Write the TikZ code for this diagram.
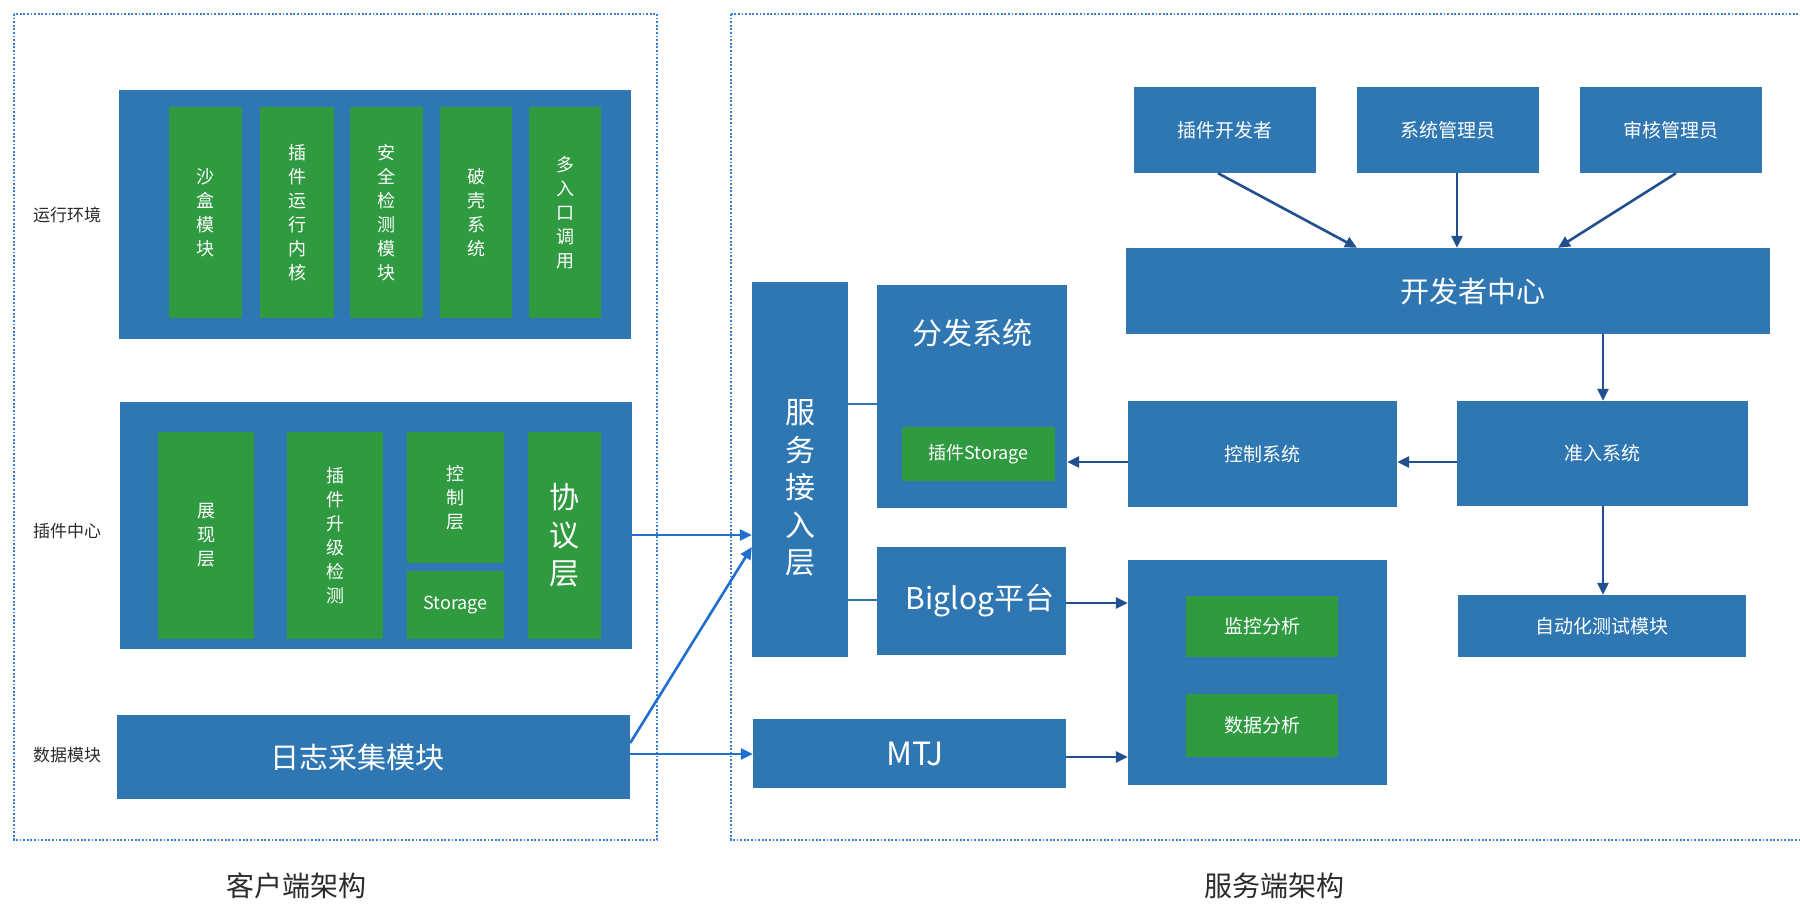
\documentclass[tikz,border=0pt]{standalone}
\usepackage{fontspec}
\newfontfamily\cjk{Noto Sans CJK SC}
\usetikzlibrary{arrows.meta}
\definecolor{boxblue}{HTML}{2F77B3}
\definecolor{boxgreen}{HTML}{2F9A40}
\definecolor{dotblue}{HTML}{3B7FD6}
\definecolor{arrbright}{HTML}{1F6ED0}
\definecolor{arrnavy}{HTML}{22508F}
\definecolor{labelgray}{HTML}{2B2B2B}
\newcommand\rectnode[7]{\node[#1, minimum width={(#5)-(#3)}, minimum height={(#6)-(#4)}] (#2) at ({((#3)+(#5))/2},{((#4)+(#6))/2}) {#7};}
\tikzset{
  bluebox/.style={fill=boxblue, draw=none, inner sep=0pt, text=white, align=center},
  greenbox/.style={fill=boxgreen, draw=none, inner sep=0pt, text=white, align=center},
  boxtext/.style={text=white, inner sep=0pt, align=center},
  vsmall/.style={font=\cjk\fontsize{18}{24}\selectfont},
  small/.style={font=\cjk\fontsize{19}{23}\selectfont},
  big/.style={font=\cjk\fontsize{29}{34}\selectfont},
  sidelabel/.style={font=\cjk\fontsize{17}{20}\selectfont, text=labelgray, inner sep=0pt},
  title/.style={font=\cjk\fontsize{28}{32}\selectfont, text=labelgray, inner sep=0pt},
  dotframe/.style={draw=dotblue, line width=1.6pt, dash pattern=on 1.8pt off 1.8pt},
  brightarrow/.style={draw=arrbright, line width=2.6pt, -{Triangle[length=12pt,width=11pt]}},
  navyarrow/.style={draw=arrnavy, line width=2.6pt, -{Triangle[length=12pt,width=11pt]}},
  plainlink/.style={draw=boxblue, line width=2.6pt},
}
\begin{document}
\begin{tikzpicture}[x=1pt,y=-1pt]
\useasboundingbox (0,0) rectangle (1800,905);
% frames
\draw[dotframe] (14,14) rectangle (657,840);
\draw[dotframe] (731,14) rectangle (1812,840);
\node[title] (tclient) at (296,886) {客户端架构};
\node[title] (tserver) at (1274,886) {服务端架构};
% side labels
\node[sidelabel] (lrun) at (67,215) {运行环境};
\node[sidelabel] (lplug) at (67,531) {插件中心};
\node[sidelabel] (ldata) at (67,755) {数据模块};
% run environment
\rectnode{bluebox}{run}{119}{90}{631}{339}{}
\rectnode{greenbox,vsmall}{g1}{169}{107}{242}{318}{沙\\盒\\模\\块}
\rectnode{greenbox,vsmall}{g2}{260}{107}{334}{318}{插\\件\\运\\行\\内\\核}
\rectnode{greenbox,vsmall}{g3}{350}{107}{423}{318}{安\\全\\检\\测\\模\\块}
\rectnode{greenbox,vsmall}{g4}{440}{107}{512}{318}{破\\壳\\系\\统}
\rectnode{greenbox,vsmall}{g5}{529}{107}{601}{318}{多\\入\\口\\调\\用}
% plugin center
\rectnode{bluebox}{pc}{120}{402}{632}{649}{}
\rectnode{greenbox,vsmall}{p1}{158}{432}{254}{639}{展\\现\\层}
\rectnode{greenbox,vsmall}{p2}{287}{432}{383}{639}{插\\件\\升\\级\\检\\测}
\rectnode{greenbox,vsmall}{p3}{407}{432}{504}{563}{控\\制\\层}
\rectnode{greenbox,vsmall}{p4}{407}{571}{504}{639}{Storage}
\rectnode{greenbox,font=\cjk\fontsize{30}{38}\selectfont}{p5}{528}{432}{601}{639}{协\\议\\层}
% log
\rectnode{bluebox}{log}{117}{715}{630}{799}{}
\node[boxtext,big] (logt) at (357,757) {日志采集模块};
% server side
\rectnode{bluebox}{acc}{752}{282}{848}{657}{}
\node[boxtext, font=\cjk\fontsize{30}{37.5}\selectfont] (acct) at (800,488) {服\\务\\接\\入\\层};
\rectnode{bluebox}{dist}{877}{285}{1067}{508}{}
\node[boxtext, font=\cjk\fontsize{30}{34}\selectfont] (distt) at (972,333) {分发系统};
\rectnode{greenbox,vsmall}{pst}{902}{427}{1055}{481}{插件Storage}
\rectnode{bluebox}{big}{877}{547}{1066}{655}{}
\node[boxtext, font=\cjk\fontsize{30}{34}\selectfont] (bigt) at (980,601) {Biglog平台};
\rectnode{bluebox}{mtj}{753}{719}{1066}{788}{}
\node[boxtext, font=\cjk\fontsize{32}{36}\selectfont] (mtjt) at (915,754) {MTJ};
\rectnode{bluebox}{ana}{1128}{560}{1387}{785}{}
\rectnode{greenbox,small}{mon}{1186}{596}{1338}{657}{监控分析}
\rectnode{greenbox,small}{dan}{1186}{694}{1338}{757}{数据分析}
\rectnode{bluebox,small}{ctl}{1128}{401}{1397}{507}{控制系统}
\rectnode{bluebox,small}{adm}{1457}{401}{1748}{506}{准入系统}
\rectnode{bluebox,small}{auto}{1458}{595}{1746}{657}{自动化测试模块}
\rectnode{bluebox}{dev}{1126}{248}{1770}{334}{}
\node[boxtext,big] (devt) at (1473,291) {开发者中心};
\rectnode{bluebox,small}{u1}{1134}{87}{1316}{173}{插件开发者}
\rectnode{bluebox,small}{u2}{1357}{87}{1539}{173}{系统管理员}
\rectnode{bluebox,small}{u3}{1580}{87}{1762}{173}{审核管理员}
% helper coordinates
\coordinate (ya) at (0,535);
\coordinate (yb) at (0,743);
\coordinate (yc) at (0,547);
\coordinate (yd) at (0,754);
\coordinate (ye) at (0,404);
\coordinate (yf) at (0,600);
\coordinate (yg) at (0,462);
\coordinate (yh) at (0,603);
\coordinate (yi) at (0,757);
\coordinate (x1) at (1218,0);
\coordinate (x2) at (1357,0);
\coordinate (x3) at (1457,0);
\coordinate (x4) at (1676,0);
\coordinate (x5) at (1558,0);
\coordinate (x6) at (1603,0);
% left to right connectors
\draw[brightarrow] (pc.east |- ya) -- (acc.west |- ya);
\draw[brightarrow] (log.east |- yb) -- (acc.west |- yc);
\draw[brightarrow] (log.east |- yd) -- (mtj.west |- yd);
% server connectors
\draw[plainlink] (acc.east |- ye) -- (dist.west |- ye);
\draw[plainlink] (acc.east |- yf) -- (big.west |- yf);
\draw[navyarrow] (ctl.west |- yg) -- (dist.east |- yg);
\draw[navyarrow] (adm.west |- yg) -- (ctl.east |- yg);
\draw[navyarrow] (big.east |- yh) -- (ana.west |- yh);
\draw[navyarrow] (mtj.east |- yi) -- (ana.west |- yi);
\draw[navyarrow] (u1.south -| x1) -- (dev.north -| x2);
\draw[navyarrow] (u2.south -| x3) -- (dev.north -| x3);
\draw[navyarrow] (u3.south -| x4) -- (dev.north -| x5);
\draw[navyarrow] (dev.south -| x6) -- (adm.north -| x6);
\draw[navyarrow] (adm.south -| x6) -- (auto.north -| x6);
\end{tikzpicture}
\end{document}
